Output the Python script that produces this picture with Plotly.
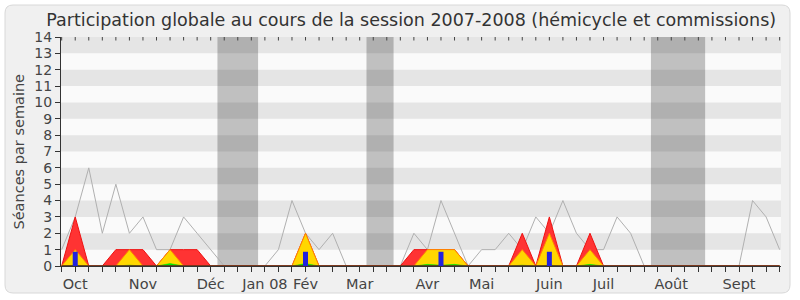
import plotly.graph_objects as go

weeks = list(range(54))
month_weeks = [1, 6, 11, 15, 18, 22, 27, 31, 36, 40, 45, 50]
month_labels = ["Oct", "Nov", "Déc", "Jan 08", "Fév", "Mar", "Avr", "Mai", "Juin", "Juil", "Août", "Sept"]

seances = [1, 3, 6, 2, 5, 2, 3, 1, 1, 3, 2, 1, 0, 0, 0, 0, 1, 4, 2, 1, 2, 0, 0, 0, 0, 0,
           2, 1, 4, 2, 0, 1, 1, 2, 1, 3, 2, 4, 2, 1, 1, 3, 2, 0, 0, 0, 0, 0, 0, 0, 0, 4, 3, 1]
presence = [0, 3, 0, 0, 1, 1, 1, 0, 1, 1, 1, 0, 0, 0, 0, 0, 0, 0, 2, 0, 0, 0, 0, 0, 0, 0,
            1, 1, 1, 1, 0, 0, 0, 0, 2, 0, 3, 0, 0, 2, 0, 0, 0, 0, 0, 0, 0, 0, 0, 0, 0, 0, 0, 0]
participation = [0, 1, 0, 0, 0, 1, 0, 0, 1, 0, 0, 0, 0, 0, 0, 0, 0, 0, 2, 0, 0, 0, 0, 0, 0, 0,
                 0, 1, 1, 1, 0, 0, 0, 0, 1, 0, 2, 0, 0, 1, 0, 0, 0, 0, 0, 0, 0, 0, 0, 0, 0, 0, 0, 0]
mots = [0, 0.05, 0, 0, 0, 0.05, 0, 0, 0.15, 0, 0, 0, 0, 0, 0, 0, 0, 0, 0.15, 0, 0, 0, 0, 0, 0, 0,
        0, 0.1, 0.05, 0.1, 0, 0, 0, 0, 0.05, 0, 0.05, 0, 0, 0.1, 0, 0, 0, 0, 0, 0, 0, 0, 0, 0, 0, 0, 0, 0]
questions_weeks = [1, 18, 28, 36]
questions = [0.87, 0.87, 0.87, 0.87]

vacances = [(11.5, 14.5), (22.5, 24.5), (43.5, 47.5)]
y_ticks = list(range(15))

font = "DejaVu Sans"
fig = go.Figure()

fig.add_trace(go.Scatter(x=weeks, y=seances, mode="lines",
                         line=dict(color="#b0b0b0", width=1), hoverinfo="skip"))
fig.add_trace(go.Scatter(x=weeks, y=presence, mode="lines", fill="tozeroy",
                         fillcolor="#ff3333", line=dict(color="#ee1111", width=1)))
fig.add_trace(go.Scatter(x=weeks, y=participation, mode="lines", fill="tozeroy",
                         fillcolor="#ffd700", line=dict(color="#ff8800", width=1)))
fig.add_trace(go.Scatter(x=weeks, y=mots, mode="lines", fill="tozeroy",
                         fillcolor="#00ee00", line=dict(color="#00dd00", width=0.5)))
fig.add_trace(go.Scatter(x=weeks, y=[0] * len(weeks), mode="lines",
                         line=dict(color="#6a1c1c", width=1.5), hoverinfo="skip"))
fig.add_trace(go.Scatter(x=weeks, y=[14] * len(weeks), mode="markers",
                         marker=dict(symbol="line-ns", size=5,
                                     line=dict(color="#444444", width=1)),
                         hoverinfo="skip"))
# bars on an overlaying axis pair so they are drawn above the filled areas
fig.add_trace(go.Bar(x=questions_weeks, y=questions, width=0.37, xaxis="x2", yaxis="y2",
                     marker=dict(color="#2222dd", line=dict(width=0))))

shapes = []
L, R, T, B = 61, 781, 37, 266
def px(x):
    return (x - L) / (R - L)
def py(y):
    return (B - y) / (B - T)
x0, x1, y0, y1, r = 5, 790, 5, 293, 8
path = (f"M {px(x0 + r)},{py(y0)} L {px(x1 - r)},{py(y0)} Q {px(x1)},{py(y0)} {px(x1)},{py(y0 + r)} "
        f"L {px(x1)},{py(y1 - r)} Q {px(x1)},{py(y1)} {px(x1 - r)},{py(y1)} "
        f"L {px(x0 + r)},{py(y1)} Q {px(x0)},{py(y1)} {px(x0)},{py(y1 - r)} "
        f"L {px(x0)},{py(y0 + r)} Q {px(x0)},{py(y0)} {px(x0 + r)},{py(y0)} Z")
shapes.append(dict(type="path", xref="paper", yref="paper", path=path,
                   fillcolor="#f0f0f0", line=dict(color="#d8d8d8", width=1), layer="below"))
shapes.append(dict(type="rect", xref="paper", yref="paper", x0=0, x1=1, y0=0, y1=1,
                   fillcolor="#fafafa", line=dict(width=0), layer="below"))
for k in range(1, 14, 2):
    shapes.append(dict(type="rect", xref="paper", yref="y", x0=0, x1=1, y0=k, y1=k + 1,
                       fillcolor="#e5e5e5", line=dict(width=0), layer="below"))
for a, b in vacances:
    shapes.append(dict(type="rect", xref="x", yref="paper", x0=a, x1=b, y0=0, y1=1,
                       fillcolor="rgba(0,0,0,0.23)", line=dict(width=0), layer="below"))

ticktext = []
for w in weeks:
    ticktext.append(month_labels[month_weeks.index(w)] if w in month_weeks else "")

xr = [-0.05, 53.1]
fig.update_layout(
    width=800, height=300,
    margin=dict(l=L, r=800 - R, t=T, b=300 - B, autoexpand=False),
    paper_bgcolor="white", plot_bgcolor="rgba(0,0,0,0)",
    showlegend=False, barmode="overlay",
    shapes=shapes,
    font=dict(family=font, color="#333333", size=14),
    title=dict(text="Participation globale au cours de la session 2007-2008 (hémicycle et commissions)",
               x=0.514, xref="container", xanchor="center", y=0.935, yref="container", yanchor="middle",
               font=dict(family=font, size=17.5, color="#333333")),
    annotations=[dict(text="Séances par semaine", xref="paper", yref="paper",
                      x=px(18), y=0.5, xanchor="center", yanchor="middle", textangle=-90,
                      showarrow=False, font=dict(size=14.5, color="#444444"))],
    xaxis=dict(range=xr, tickmode="array", tickvals=weeks, ticktext=ticktext, automargin=False,
               ticks="outside", ticklen=5, tickcolor="#333333", showgrid=False, zeroline=False,
               showline=True, linecolor="#333333", linewidth=1,
               tickfont=dict(size=14.5, color="#444444")),
    yaxis=dict(range=[0, 14], tickmode="array", tickvals=y_ticks, automargin=False,
               ticks="outside", ticklen=5, tickcolor="#333333", showgrid=False, zeroline=False,
               showline=True, linecolor="#333333", linewidth=1,
               tickfont=dict(size=14, color="#444444")),
    xaxis2=dict(range=xr, overlaying="x", visible=False),
    yaxis2=dict(range=[0, 14], overlaying="y", visible=False),
)

fig.write_html("out.html")
